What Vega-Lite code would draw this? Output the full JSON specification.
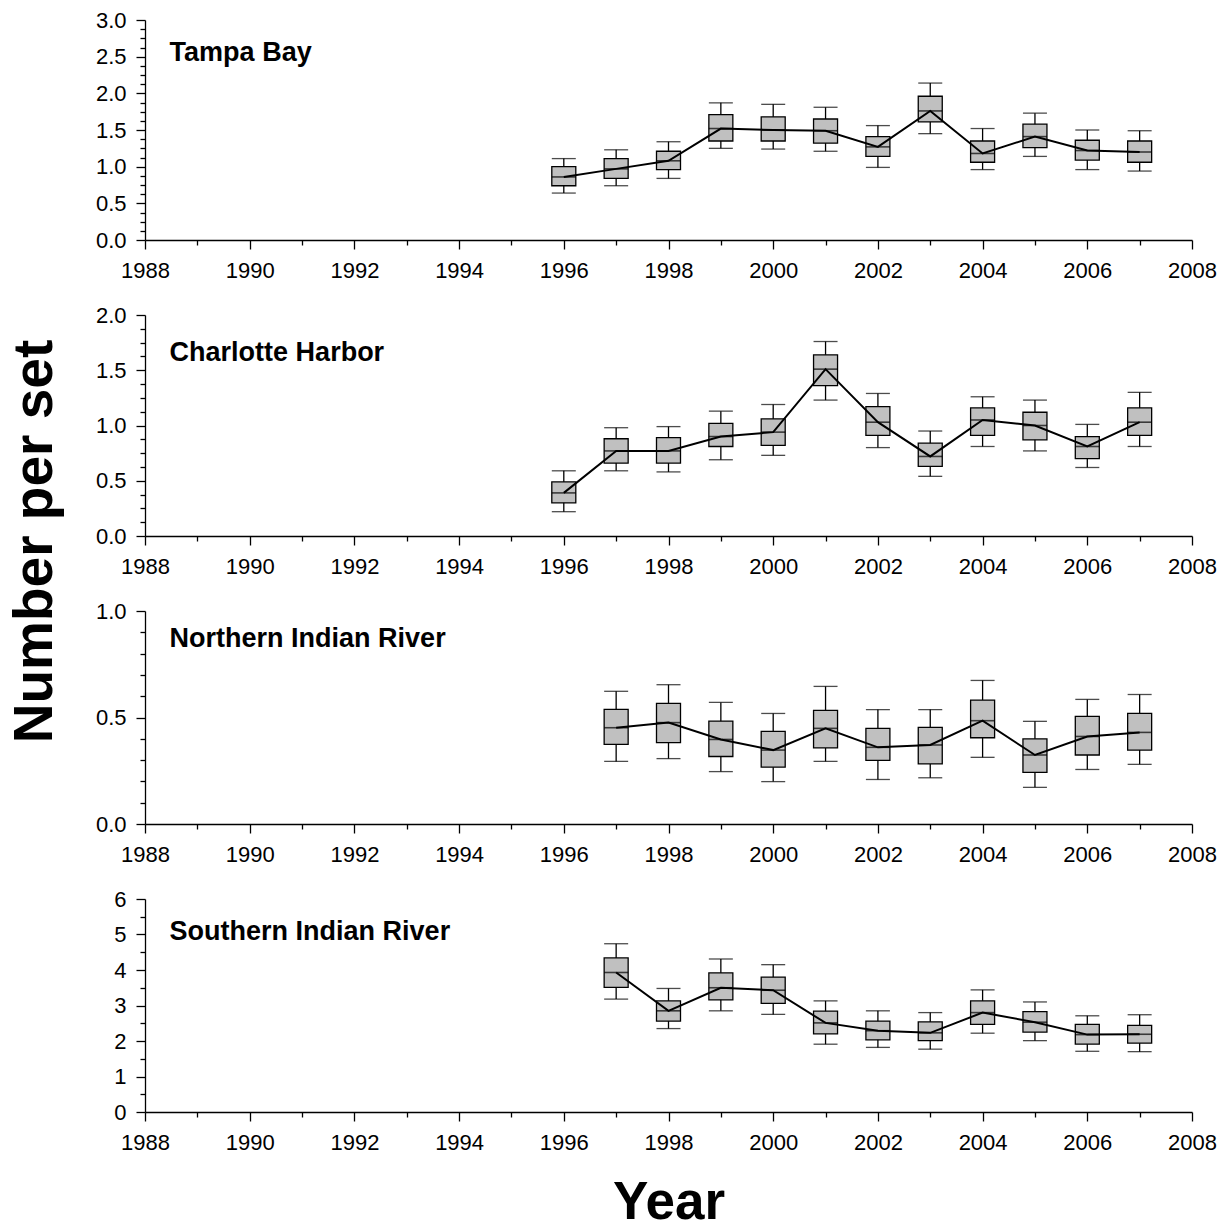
{
  "$schema": "https://vega.github.io/schema/vega-lite/v6.json",
  "padding": {"left": 6, "top": 9, "right": 5, "bottom": 0},
  "background": "white",
  "config": {
    "font": "Liberation Sans",
    "view": {"stroke": null},
    "axis": {
      "grid": false,
      "domainColor": "black",
      "domainWidth": 1.3,
      "tickColor": "black",
      "tickWidth": 1.3,
      "labelColor": "black",
      "labelFont": "Liberation Sans",
      "labelFontSize": 22,
      "titleColor": "black",
      "titleFont": "Liberation Sans",
      "labelFlush": false,
      "labelOverlap": false
    }
  },
  "datasets": {
    "tampa": [
      {"year": 1996, "lo": 0.64, "q1": 0.74, "med": 0.86, "q3": 1.00, "hi": 1.11},
      {"year": 1997, "lo": 0.74, "q1": 0.84, "med": 0.97, "q3": 1.11, "hi": 1.23},
      {"year": 1998, "lo": 0.84, "q1": 0.96, "med": 1.08, "q3": 1.21, "hi": 1.34},
      {"year": 1999, "lo": 1.25, "q1": 1.35, "med": 1.52, "q3": 1.71, "hi": 1.87},
      {"year": 2000, "lo": 1.24, "q1": 1.35, "med": 1.50, "q3": 1.68, "hi": 1.85},
      {"year": 2001, "lo": 1.21, "q1": 1.32, "med": 1.49, "q3": 1.65, "hi": 1.81},
      {"year": 2002, "lo": 0.99, "q1": 1.14, "med": 1.27, "q3": 1.41, "hi": 1.56},
      {"year": 2003, "lo": 1.45, "q1": 1.61, "med": 1.76, "q3": 1.96, "hi": 2.14},
      {"year": 2004, "lo": 0.96, "q1": 1.06, "med": 1.18, "q3": 1.35, "hi": 1.52},
      {"year": 2005, "lo": 1.14, "q1": 1.26, "med": 1.41, "q3": 1.58, "hi": 1.73},
      {"year": 2006, "lo": 0.96, "q1": 1.09, "med": 1.22, "q3": 1.36, "hi": 1.50},
      {"year": 2007, "lo": 0.94, "q1": 1.06, "med": 1.20, "q3": 1.35, "hi": 1.49}
    ],
    "charlotte": [
      {"year": 1996, "lo": 0.22, "q1": 0.30, "med": 0.39, "q3": 0.49, "hi": 0.59},
      {"year": 1997, "lo": 0.59, "q1": 0.66, "med": 0.77, "q3": 0.88, "hi": 0.98},
      {"year": 1998, "lo": 0.58, "q1": 0.66, "med": 0.77, "q3": 0.89, "hi": 0.99},
      {"year": 1999, "lo": 0.69, "q1": 0.81, "med": 0.90, "q3": 1.02, "hi": 1.13},
      {"year": 2000, "lo": 0.73, "q1": 0.82, "med": 0.94, "q3": 1.06, "hi": 1.19},
      {"year": 2001, "lo": 1.23, "q1": 1.36, "med": 1.51, "q3": 1.64, "hi": 1.76},
      {"year": 2002, "lo": 0.80, "q1": 0.91, "med": 1.03, "q3": 1.17, "hi": 1.29},
      {"year": 2003, "lo": 0.54, "q1": 0.63, "med": 0.72, "q3": 0.84, "hi": 0.95},
      {"year": 2004, "lo": 0.81, "q1": 0.91, "med": 1.05, "q3": 1.16, "hi": 1.26},
      {"year": 2005, "lo": 0.77, "q1": 0.87, "med": 1.00, "q3": 1.12, "hi": 1.23},
      {"year": 2006, "lo": 0.62, "q1": 0.70, "med": 0.81, "q3": 0.90, "hi": 1.01},
      {"year": 2007, "lo": 0.81, "q1": 0.91, "med": 1.03, "q3": 1.16, "hi": 1.30}
    ],
    "northern": [
      {"year": 1997, "lo": 0.294, "q1": 0.374, "med": 0.452, "q3": 0.538, "hi": 0.623},
      {"year": 1998, "lo": 0.307, "q1": 0.382, "med": 0.476, "q3": 0.566, "hi": 0.654},
      {"year": 1999, "lo": 0.246, "q1": 0.317, "med": 0.397, "q3": 0.483, "hi": 0.571},
      {"year": 2000, "lo": 0.199, "q1": 0.267, "med": 0.347, "q3": 0.435, "hi": 0.519},
      {"year": 2001, "lo": 0.294, "q1": 0.357, "med": 0.449, "q3": 0.533, "hi": 0.646},
      {"year": 2002, "lo": 0.209, "q1": 0.299, "med": 0.360, "q3": 0.449, "hi": 0.537},
      {"year": 2003, "lo": 0.217, "q1": 0.282, "med": 0.371, "q3": 0.454, "hi": 0.537},
      {"year": 2004, "lo": 0.313, "q1": 0.405, "med": 0.485, "q3": 0.582, "hi": 0.674},
      {"year": 2005, "lo": 0.172, "q1": 0.242, "med": 0.324, "q3": 0.400, "hi": 0.482},
      {"year": 2006, "lo": 0.256, "q1": 0.324, "med": 0.411, "q3": 0.505, "hi": 0.585},
      {"year": 2007, "lo": 0.280, "q1": 0.347, "med": 0.430, "q3": 0.519, "hi": 0.608}
    ],
    "southern": [
      {"year": 1997, "lo": 3.18, "q1": 3.51, "med": 3.93, "q3": 4.34, "hi": 4.74},
      {"year": 1998, "lo": 2.35, "q1": 2.56, "med": 2.85, "q3": 3.13, "hi": 3.48},
      {"year": 1999, "lo": 2.85, "q1": 3.16, "med": 3.50, "q3": 3.92, "hi": 4.31},
      {"year": 2000, "lo": 2.75, "q1": 3.06, "med": 3.43, "q3": 3.80, "hi": 4.15},
      {"year": 2001, "lo": 1.91, "q1": 2.20, "med": 2.51, "q3": 2.84, "hi": 3.13},
      {"year": 2002, "lo": 1.82, "q1": 2.03, "med": 2.29, "q3": 2.56, "hi": 2.85},
      {"year": 2003, "lo": 1.77, "q1": 2.01, "med": 2.23, "q3": 2.54, "hi": 2.80},
      {"year": 2004, "lo": 2.22, "q1": 2.47, "med": 2.80, "q3": 3.13, "hi": 3.44},
      {"year": 2005, "lo": 2.01, "q1": 2.25, "med": 2.53, "q3": 2.83, "hi": 3.10},
      {"year": 2006, "lo": 1.71, "q1": 1.91, "med": 2.18, "q3": 2.47, "hi": 2.71},
      {"year": 2007, "lo": 1.70, "q1": 1.94, "med": 2.19, "q3": 2.44, "hi": 2.74}
    ]
  },
  "vconcat": [
    {
      "data": {"name": "tampa"},
      "width": 1047, "height": 220,
      "layer": [
        {"mark": {"type": "rule", "stroke": "black", "strokeWidth": 1.3},
         "encoding": {
           "x": {"field": "year", "type": "quantitative", "scale": {"domain": [1988, 2008], "nice": false, "zero": false, "padding": 0},
                 "axis": {"orient": "bottom", "values": [1989, 1991, 1993, 1995, 1997, 1999, 2001, 2003, 2005, 2007], "tickSize": 5, "labels": false, "domain": false, "title": null}},
           "y": {"field": "lo", "type": "quantitative", "scale": {"domain": [0, 3], "nice": false, "padding": 0},
                 "axis": {"orient": "left", "values": [0.125, 0.25, 0.375, 0.625, 0.75, 0.875, 1.125, 1.25, 1.375, 1.625, 1.75, 1.875, 2.125, 2.25, 2.375, 2.625, 2.75, 2.875], "tickSize": 5, "labels": false, "domain": false, "title": null}},
           "y2": {"field": "hi"}
         }},
        {"mark": {"type": "tick", "orient": "horizontal", "size": 24, "thickness": 1.3, "color": "black"},
         "encoding": {"x": {"field": "year", "type": "quantitative", "axis": null}, "y": {"field": "lo", "type": "quantitative", "axis": null}}},
        {"mark": {"type": "tick", "orient": "horizontal", "size": 24, "thickness": 1.3, "color": "black"},
         "encoding": {"x": {"field": "year", "type": "quantitative", "axis": null}, "y": {"field": "hi", "type": "quantitative", "axis": null}}},
        {"mark": {"type": "bar", "size": 24, "fill": "#c0c0c0", "stroke": "black", "strokeWidth": 1.3},
         "encoding": {
           "x": {"field": "year", "type": "quantitative",
                 "axis": {"orient": "bottom", "values": [1988, 1990, 1992, 1994, 1996, 1998, 2000, 2002, 2004, 2006, 2008], "format": "d", "tickSize": 9, "labelPadding": 11, "title": null}},
           "y": {"field": "q1", "type": "quantitative",
                 "axis": {"orient": "left", "values": [0, 0.5, 1, 1.5, 2, 2.5, 3], "format": ".1f", "tickSize": 9, "labelPadding": 10, "title": null}},
           "y2": {"field": "q3"}
         }},
        {"mark": {"type": "tick", "orient": "horizontal", "size": 24, "thickness": 1.6, "color": "black"},
         "encoding": {"x": {"field": "year", "type": "quantitative", "axis": null}, "y": {"field": "med", "type": "quantitative", "axis": null}}},
        {"mark": {"type": "line", "color": "black", "strokeWidth": 2},
         "encoding": {"x": {"field": "year", "type": "quantitative", "axis": null}, "y": {"field": "med", "type": "quantitative", "axis": null}}},
        {"data": {"values": [{}]},
         "mark": {"type": "text", "text": "Tampa Bay", "fontSize": 27, "fontWeight": "bold", "align": "left", "baseline": "alphabetic", "color": "black"},
         "encoding": {"x": {"datum": 1988.47, "type": "quantitative", "axis": null}, "y": {"datum": 2.44, "type": "quantitative", "axis": null}}}
      ],
      "resolve": {"axis": {"x": "independent", "y": "independent"}}
    },
    {
      "data": {"name": "charlotte"},
      "width": 1047, "height": 221,
      "layer": [
        {"mark": {"type": "rule", "stroke": "black", "strokeWidth": 1.3},
         "encoding": {
           "x": {"field": "year", "type": "quantitative", "scale": {"domain": [1988, 2008], "nice": false, "zero": false, "padding": 0},
                 "axis": {"orient": "bottom", "values": [1989, 1991, 1993, 1995, 1997, 1999, 2001, 2003, 2005, 2007], "tickSize": 5, "labels": false, "domain": false, "title": null}},
           "y": {"field": "lo", "type": "quantitative", "scale": {"domain": [0, 2], "nice": false, "padding": 0},
                 "axis": {"orient": "left", "values": [0.125, 0.25, 0.375, 0.625, 0.75, 0.875, 1.125, 1.25, 1.375, 1.625, 1.75, 1.875], "tickSize": 5, "labels": false, "domain": false, "title": null}},
           "y2": {"field": "hi"}
         }},
        {"mark": {"type": "tick", "orient": "horizontal", "size": 24, "thickness": 1.3, "color": "black"},
         "encoding": {"x": {"field": "year", "type": "quantitative", "axis": null}, "y": {"field": "lo", "type": "quantitative", "axis": null}}},
        {"mark": {"type": "tick", "orient": "horizontal", "size": 24, "thickness": 1.3, "color": "black"},
         "encoding": {"x": {"field": "year", "type": "quantitative", "axis": null}, "y": {"field": "hi", "type": "quantitative", "axis": null}}},
        {"mark": {"type": "bar", "size": 24, "fill": "#c0c0c0", "stroke": "black", "strokeWidth": 1.3},
         "encoding": {
           "x": {"field": "year", "type": "quantitative",
                 "axis": {"orient": "bottom", "values": [1988, 1990, 1992, 1994, 1996, 1998, 2000, 2002, 2004, 2006, 2008], "format": "d", "tickSize": 9, "labelPadding": 11, "title": null}},
           "y": {"field": "q1", "type": "quantitative",
                 "axis": {"orient": "left", "values": [0, 0.5, 1, 1.5, 2], "format": ".1f", "tickSize": 9, "labelPadding": 10,
                          "title": "Number per set", "titleFontSize": 55, "titleFontWeight": "bold", "titleX": -82, "titleY": 226}},
           "y2": {"field": "q3"}
         }},
        {"mark": {"type": "tick", "orient": "horizontal", "size": 24, "thickness": 1.6, "color": "black"},
         "encoding": {"x": {"field": "year", "type": "quantitative", "axis": null}, "y": {"field": "med", "type": "quantitative", "axis": null}}},
        {"mark": {"type": "line", "color": "black", "strokeWidth": 2},
         "encoding": {"x": {"field": "year", "type": "quantitative", "axis": null}, "y": {"field": "med", "type": "quantitative", "axis": null}}},
        {"data": {"values": [{}]},
         "mark": {"type": "text", "text": "Charlotte Harbor", "fontSize": 27, "fontWeight": "bold", "align": "left", "baseline": "alphabetic", "color": "black"},
         "encoding": {"x": {"datum": 1988.47, "type": "quantitative", "axis": null}, "y": {"datum": 1.587, "type": "quantitative", "axis": null}}}
      ],
      "resolve": {"axis": {"x": "independent", "y": "independent"}}
    },
    {
      "data": {"name": "northern"},
      "width": 1047, "height": 213,
      "layer": [
        {"mark": {"type": "rule", "stroke": "black", "strokeWidth": 1.3},
         "encoding": {
           "x": {"field": "year", "type": "quantitative", "scale": {"domain": [1988, 2008], "nice": false, "zero": false, "padding": 0},
                 "axis": {"orient": "bottom", "values": [1989, 1991, 1993, 1995, 1997, 1999, 2001, 2003, 2005, 2007], "tickSize": 5, "labels": false, "domain": false, "title": null}},
           "y": {"field": "lo", "type": "quantitative", "scale": {"domain": [0, 1], "nice": false, "padding": 0},
                 "axis": {"orient": "left", "values": [0.1, 0.2, 0.3, 0.4, 0.6, 0.7, 0.8, 0.9], "tickSize": 5, "labels": false, "domain": false, "title": null}},
           "y2": {"field": "hi"}
         }},
        {"mark": {"type": "tick", "orient": "horizontal", "size": 24, "thickness": 1.3, "color": "black"},
         "encoding": {"x": {"field": "year", "type": "quantitative", "axis": null}, "y": {"field": "lo", "type": "quantitative", "axis": null}}},
        {"mark": {"type": "tick", "orient": "horizontal", "size": 24, "thickness": 1.3, "color": "black"},
         "encoding": {"x": {"field": "year", "type": "quantitative", "axis": null}, "y": {"field": "hi", "type": "quantitative", "axis": null}}},
        {"mark": {"type": "bar", "size": 24, "fill": "#c0c0c0", "stroke": "black", "strokeWidth": 1.3},
         "encoding": {
           "x": {"field": "year", "type": "quantitative",
                 "axis": {"orient": "bottom", "values": [1988, 1990, 1992, 1994, 1996, 1998, 2000, 2002, 2004, 2006, 2008], "format": "d", "tickSize": 9, "labelPadding": 11, "title": null}},
           "y": {"field": "q1", "type": "quantitative",
                 "axis": {"orient": "left", "values": [0, 0.5, 1], "format": ".1f", "tickSize": 9, "labelPadding": 10, "title": null}},
           "y2": {"field": "q3"}
         }},
        {"mark": {"type": "tick", "orient": "horizontal", "size": 24, "thickness": 1.6, "color": "black"},
         "encoding": {"x": {"field": "year", "type": "quantitative", "axis": null}, "y": {"field": "med", "type": "quantitative", "axis": null}}},
        {"mark": {"type": "line", "color": "black", "strokeWidth": 2},
         "encoding": {"x": {"field": "year", "type": "quantitative", "axis": null}, "y": {"field": "med", "type": "quantitative", "axis": null}}},
        {"data": {"values": [{}]},
         "mark": {"type": "text", "text": "Northern Indian River", "fontSize": 27, "fontWeight": "bold", "align": "left", "baseline": "alphabetic", "color": "black"},
         "encoding": {"x": {"datum": 1988.47, "type": "quantitative", "axis": null}, "y": {"datum": 0.83, "type": "quantitative", "axis": null}}}
      ],
      "resolve": {"axis": {"x": "independent", "y": "independent"}}
    },
    {
      "data": {"name": "southern"},
      "width": 1047, "height": 213,
      "layer": [
        {"mark": {"type": "rule", "stroke": "black", "strokeWidth": 1.3},
         "encoding": {
           "x": {"field": "year", "type": "quantitative", "scale": {"domain": [1988, 2008], "nice": false, "zero": false, "padding": 0},
                 "axis": {"orient": "bottom", "values": [1989, 1991, 1993, 1995, 1997, 1999, 2001, 2003, 2005, 2007], "tickSize": 5, "labels": false, "domain": false, "title": null}},
           "y": {"field": "lo", "type": "quantitative", "scale": {"domain": [0, 6], "nice": false, "padding": 0},
                 "axis": {"orient": "left", "values": [0.5, 1.5, 2.5, 3.5, 4.5, 5.5], "tickSize": 5, "labels": false, "domain": false, "title": null}},
           "y2": {"field": "hi"}
         }},
        {"mark": {"type": "tick", "orient": "horizontal", "size": 24, "thickness": 1.3, "color": "black"},
         "encoding": {"x": {"field": "year", "type": "quantitative", "axis": null}, "y": {"field": "lo", "type": "quantitative", "axis": null}}},
        {"mark": {"type": "tick", "orient": "horizontal", "size": 24, "thickness": 1.3, "color": "black"},
         "encoding": {"x": {"field": "year", "type": "quantitative", "axis": null}, "y": {"field": "hi", "type": "quantitative", "axis": null}}},
        {"mark": {"type": "bar", "size": 24, "fill": "#c0c0c0", "stroke": "black", "strokeWidth": 1.3},
         "encoding": {
           "x": {"field": "year", "type": "quantitative",
                 "axis": {"orient": "bottom", "values": [1988, 1990, 1992, 1994, 1996, 1998, 2000, 2002, 2004, 2006, 2008], "format": "d", "tickSize": 9, "labelPadding": 11,
                          "title": "Year", "titleFontSize": 53, "titleFontWeight": "bold", "titleY": 64}},
           "y": {"field": "q1", "type": "quantitative",
                 "axis": {"orient": "left", "values": [0, 1, 2, 3, 4, 5, 6], "format": "d", "tickSize": 9, "labelPadding": 10, "title": null}},
           "y2": {"field": "q3"}
         }},
        {"mark": {"type": "tick", "orient": "horizontal", "size": 24, "thickness": 1.6, "color": "black"},
         "encoding": {"x": {"field": "year", "type": "quantitative", "axis": null}, "y": {"field": "med", "type": "quantitative", "axis": null}}},
        {"mark": {"type": "line", "color": "black", "strokeWidth": 2},
         "encoding": {"x": {"field": "year", "type": "quantitative", "axis": null}, "y": {"field": "med", "type": "quantitative", "axis": null}}},
        {"data": {"values": [{}]},
         "mark": {"type": "text", "text": "Southern Indian River", "fontSize": 27, "fontWeight": "bold", "align": "left", "baseline": "alphabetic", "color": "black"},
         "encoding": {"x": {"datum": 1988.47, "type": "quantitative", "axis": null}, "y": {"datum": 4.84, "type": "quantitative", "axis": null}}}
      ],
      "resolve": {"axis": {"x": "independent", "y": "independent"}}
    }
  ],
  "bounds": "flush",
  "spacing": 75
}
